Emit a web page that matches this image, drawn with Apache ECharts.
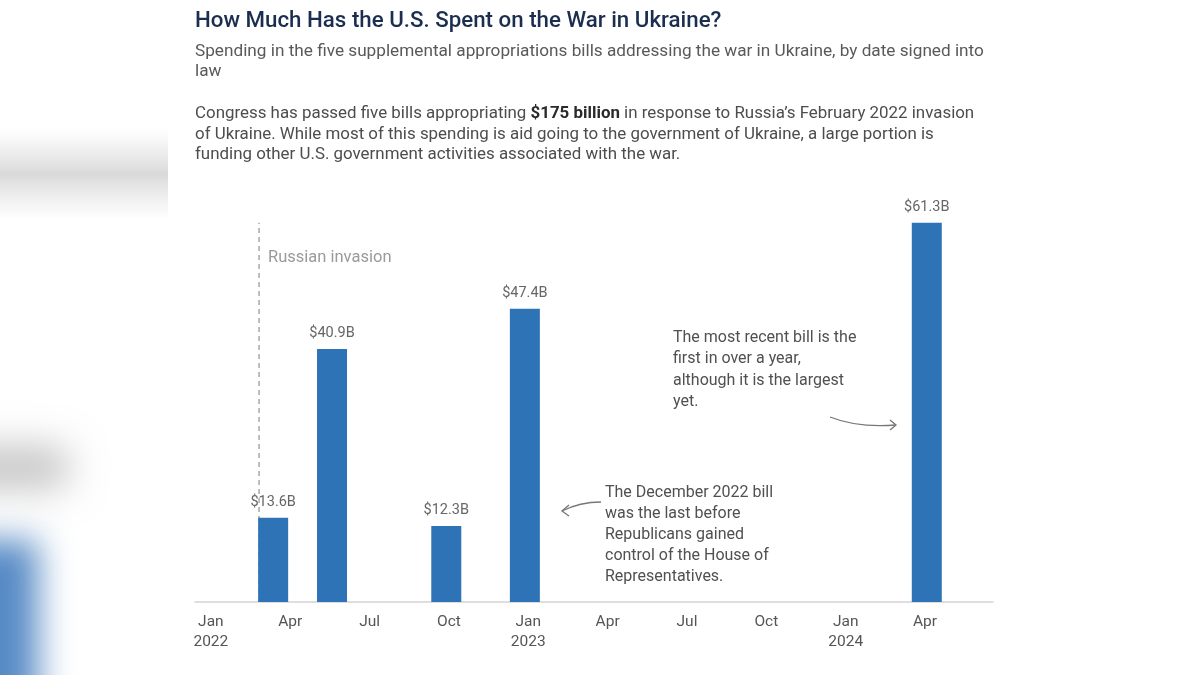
<!DOCTYPE html>
<html>
<head>
<meta charset="utf-8">
<script src="https://cdn.jsdelivr.net/npm/echarts@6/dist/echarts.min.js"></script>
<style>html,body{margin:0;padding:0;background:#fff}#c{width:1200px;height:675px}</style>
</head>
<body>
<div id="c"></div>
<script>
// ---- data ----
const billDates = ['2022-03-12', '2022-05-19', '2022-09-28', '2022-12-28', '2024-04-03'];
const billValues = [13.6, 40.9, 12.3, 47.4, 61.3];
const tickLabels = ['Jan\n2022', 'Apr', 'Jul', 'Oct', 'Jan\n2023', 'Apr', 'Jul', 'Oct', 'Jan\n2024', 'Apr'];
const tickMonths = [0, 3, 6, 9, 12, 15, 18, 21, 24, 27];
const invasionDate = '2022-02-24';
const invasionLineTop = 61.3;

function toMonths(s) {
  const [y, m, d] = s.split('-').map(Number);
  const dim = new Date(y, m, 0).getDate();
  return (y - 2022) * 12 + (m - 1) + (d - 1) / dim;
}
const barData = billDates.map((d, i) => [toMonths(d), billValues[i]]);
const inv = toMonths(invasionDate);

const FONT = 'Roboto';
const chart = echarts.init(document.getElementById('c'));
chart.setOption({
  backgroundColor: '#ffffff',
  animation: false,
  grid: { left: 195, right: 207, top: 169, bottom: 73 },
  xAxis: {
    type: 'value', min: -0.6, max: 29.57,
    axisLine: { show: true, lineStyle: { color: '#d4d4d4', width: 1.5 } },
    axisTick: { show: false },
    splitLine: { show: false },
    axisLabel: {
      customValues: tickMonths,
      margin: 10,
      color: '#555', fontFamily: FONT, fontSize: 15.5, lineHeight: 20,
      formatter: v => tickLabels[tickMonths.indexOf(Math.round(v))] || ''
    }
  },
  yAxis: { type: 'value', min: 0, max: 70, show: false, splitLine: { show: false } },
  series: [
    {
      type: 'line', data: [[inv, 0], [inv, invasionLineTop]], symbol: 'none', z: 1,
      lineStyle: { color: '#a8a8a8', width: 1.5, type: [5, 4] }
    },
    {
      type: 'bar', data: barData, barWidth: 30, z: 2,
      itemStyle: { color: '#2e73b6' },
      label: {
        show: true, position: 'top', distance: 8,
        color: '#666', fontFamily: FONT, fontSize: 14.5,
        formatter: p => '$' + p.value[1].toFixed(1) + 'B'
      }
    }
  ],
  graphic: [
    // blurred background on left
    { type: 'rect', shape: { x: 0, y: 128, width: 168, height: 92 }, silent: true,
      style: { fill: new echarts.graphic.LinearGradient(0, 0, 0, 1, [
        { offset: 0, color: 'rgba(225,225,225,0)' },
        { offset: 0.5, color: 'rgba(215,215,215,0.95)' },
        { offset: 1, color: 'rgba(225,225,225,0)' }]) } },
    { type: 'rect', shape: { x: -1060, y: 445, width: 130, height: 45, r: 20 }, silent: true,
      style: { fill: '#cfcfcf', shadowColor: 'rgba(200,200,200,1)', shadowBlur: 36, shadowOffsetX: 1000 } },
    { type: 'rect', shape: { x: -1040, y: 540, width: 78, height: 200 }, silent: true,
      style: { fill: '#5a8ec6', shadowColor: 'rgba(86,138,197,1)', shadowBlur: 34, shadowOffsetX: 1000 } },
    // titles
    { type: 'text', left: 195, top: 10, style: {
      text: 'How Much Has the U.S. Spent on the War in Ukraine?',
      fill: '#1c2e50', font: '500 22.3px ' + FONT } },
    { type: 'text', left: 195, top: 42, style: {
      text: 'Spending in the five supplemental appropriations bills addressing the war in Ukraine, by date signed into\nlaw',
      fill: '#595959', font: '17.2px ' + FONT, lineHeight: 20 } },
    { type: 'text', left: 195, top: 104, style: {
      text: 'Congress has passed five bills appropriating {b|$175 billion} in response to Russia\u2019s February 2022 invasion\nof Ukraine. While most of this spending is aid going to the government of Ukraine, a large portion is\nfunding other U.S. government activities associated with the war.',
      fill: '#4d4d4d', font: '16.9px ' + FONT, lineHeight: 20.5,
      rich: { b: { fontWeight: 'bold', fill: '#2a2a2a', fontFamily: FONT, fontSize: 16.9, lineHeight: 20.5 } } } },
    // annotations
    { type: 'text', left: 268, top: 249, style: {
      text: 'Russian invasion', fill: '#9a9a9a', font: '16.5px ' + FONT } },
    { type: 'text', left: 605, top: 482, style: {
      text: 'The December 2022 bill\nwas the last before\nRepublicans gained\ncontrol of the House of\nRepresentatives.',
      fill: '#505050', font: '16px ' + FONT, lineHeight: 21 } },
    { type: 'text', left: 673, top: 327, style: {
      text: 'The most recent bill is the\nfirst in over a year,\nalthough it is the largest\nyet.',
      fill: '#505050', font: '16px ' + FONT, lineHeight: 21.5 } },
    // arrows
    { type: 'bezierCurve', silent: true, shape: { x1: 601, y1: 502, x2: 562, y2: 511, cpx1: 582, cpy1: 502, cpx2: 570, cpy2: 507 },
      style: { stroke: '#777', lineWidth: 1.3, fill: null } },
    { type: 'polyline', silent: true, shape: { points: [[569, 505], [562, 511], [569, 516]] },
      style: { stroke: '#777', lineWidth: 1.3, fill: null } },
    { type: 'bezierCurve', silent: true, shape: { x1: 830, y1: 417, x2: 896, y2: 425, cpx1: 850, cpy1: 425, cpx2: 870, cpy2: 427 },
      style: { stroke: '#777', lineWidth: 1.3, fill: null } },
    { type: 'polyline', silent: true, shape: { points: [[890, 420], [896, 425], [890, 430]] },
      style: { stroke: '#777', lineWidth: 1.3, fill: null } }
  ]
});
</script>
</body>
</html>
